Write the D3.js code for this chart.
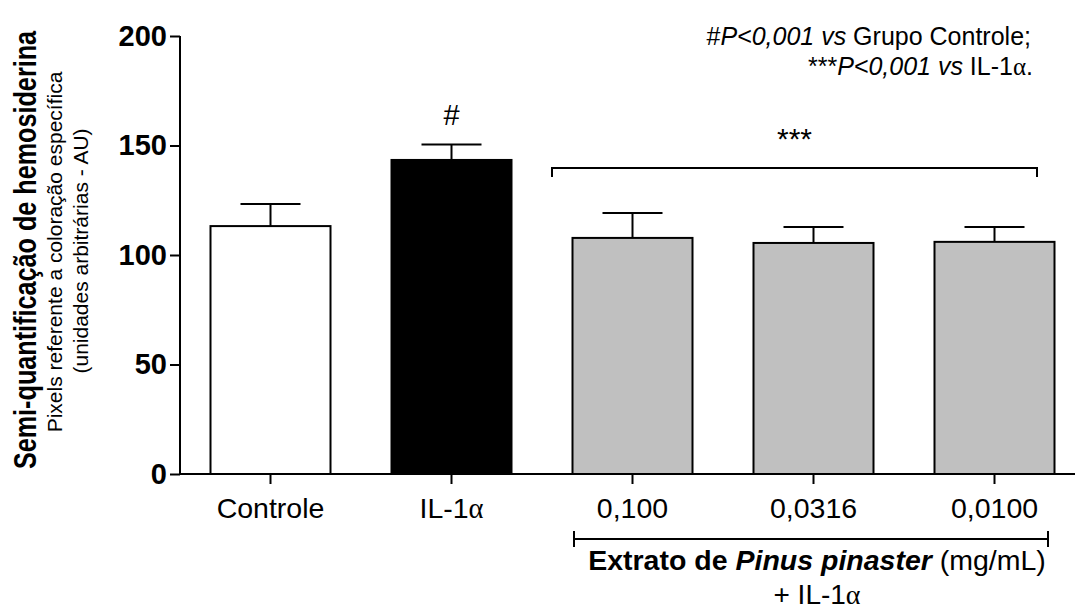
<!DOCTYPE html>
<html>
<head>
<meta charset="utf-8">
<script src="https://cdn.jsdelivr.net/npm/d3@7"></script>
<style>
  body { margin: 0; background: #fff; }
  text { font-family: "Liberation Sans", Arial, sans-serif; fill: #000; }
</style>
</head>
<body>
<div id="chart"></div>
<script>
// Data
const groups = ["Controle", "IL-1α", "0,100", "0,0316", "0,0100"];
const means = [113.2, 143.4, 107.8, 105.5, 106.0];
const sems = [10.1, 7.1, 11.4, 7.3, 6.8];
const fills = ["#ffffff", "#000000", "#c0c0c0", "#c0c0c0", "#c0c0c0"];
const yTicks = [0, 50, 100, 150, 200];

const width = 1075, height = 609;
const margin = {top: 36, right: 0, bottom: 135, left: 180};

const svg = d3.select("#chart").append("svg")
    .attr("width", width)
    .attr("height", height);

// 181 px per group, bars 120 px wide
const x = d3.scaleBand()
    .domain(groups)
    .range([margin.left, margin.left + 181 * 5])
    .paddingInner(1 - 120 / 181)
    .paddingOuter((1 - 120 / 181) / 2);

const y = d3.scaleLinear()
    .domain([0, 200])
    .range([height - margin.bottom, margin.top]);

// Bars
svg.append("g")
    .selectAll("rect")
    .data(groups)
    .join("rect")
    .attr("x", d => x(d))
    .attr("y", (d, i) => y(means[i]))
    .attr("width", x.bandwidth())
    .attr("height", (d, i) => y(0) - y(means[i]))
    .attr("fill", (d, i) => fills[i])
    .attr("stroke", "#000")
    .attr("stroke-width", 2);

// Error bars (upper only)
const err = svg.append("g").attr("stroke", "#000").attr("stroke-width", 2);
groups.forEach((g, i) => {
    const cx = x(g) + x.bandwidth() / 2;
    err.append("line")
        .attr("x1", cx).attr("x2", cx)
        .attr("y1", y(means[i])).attr("y2", y(means[i] + sems[i]));
    err.append("line")
        .attr("x1", cx - 30).attr("x2", cx + 30)
        .attr("y1", y(means[i] + sems[i])).attr("y2", y(means[i] + sems[i]));
});

// Y axis
const yAxis = svg.append("g")
    .attr("transform", `translate(${margin.left},0)`)
    .call(d3.axisLeft(y).tickValues(yTicks).tickSize(10).tickPadding(3));
yAxis.select(".domain").attr("stroke-width", 2).attr("d", `M-0,${y(200)}V${y(0)}`);
yAxis.selectAll(".tick line").attr("stroke-width", 2);
yAxis.selectAll(".tick text")
    .style("font-family", "Liberation Sans, Arial, sans-serif")
    .style("font-size", "29px")
    .style("font-weight", "bold");

// X axis
const xAxis = svg.append("g")
    .attr("transform", `translate(0,${y(0)})`)
    .call(d3.axisBottom(x).tickSize(10).tickSizeOuter(0).tickFormat(() => ""));
xAxis.select(".domain").attr("stroke-width", 2).attr("d", `M${margin.left},0H${width}`);
xAxis.selectAll(".tick line").attr("stroke-width", 2);

// X labels, alpha in a serif face
const xl = svg.append("g");
groups.forEach(g => {
    const t = xl.append("text")
        .attr("x", x(g) + x.bandwidth() / 2)
        .attr("y", 518)
        .attr("text-anchor", "middle")
        .style("font-size", "28.5px");
    if (g.endsWith("α")) {
        t.append("tspan").text(g.slice(0, -1));
        t.append("tspan").style("font-family", "Liberation Serif, serif").text("α");
    } else {
        t.text(g);
    }
});

// Y axis title
const yt = svg.append("g");
yt.append("text")
    .attr("transform", `translate(36,250)rotate(-90)scale(0.8,1)`)
    .attr("text-anchor", "middle")
    .style("font-size", "31.5px")
    .style("font-weight", "bold")
    .text("Semi-quantificação de hemosiderina");
yt.append("text")
    .attr("transform", `translate(62,252)rotate(-90)`)
    .attr("text-anchor", "middle")
    .style("font-size", "21px")
    .text("Pixels referente a coloração específica");
yt.append("text")
    .attr("transform", `translate(88,251)rotate(-90)`)
    .attr("text-anchor", "middle")
    .style("font-size", "21px")
    .text("(unidades arbitrárias - AU)");

// Significance marks
svg.append("text")
    .attr("x", x(groups[1]) + x.bandwidth() / 2)
    .attr("y", 125)
    .attr("text-anchor", "middle")
    .style("font-size", "29px")
    .text("#");

const bx1 = 552, bx2 = 1037, by = 168;
svg.append("path")
    .attr("d", `M${bx1},${by + 9}V${by}H${bx2}V${by + 9}`)
    .attr("fill", "none")
    .attr("stroke", "#000")
    .attr("stroke-width", 2);
svg.append("text")
    .attr("x", (bx1 + bx2) / 2)
    .attr("y", 149)
    .attr("text-anchor", "middle")
    .style("font-size", "30px")
    .text("***");

// Bottom group bracket
const gx1 = 574, gx2 = 1048, gy = 539;
svg.append("path")
    .attr("d", `M${gx1},${gy - 8}V${gy + 8}M${gx1},${gy}H${gx2}M${gx2},${gy - 8}V${gy + 8}`)
    .attr("fill", "none")
    .attr("stroke", "#000")
    .attr("stroke-width", 2);
const ext = svg.append("text")
    .attr("x", 817)
    .attr("y", 570)
    .attr("text-anchor", "middle")
    .style("font-size", "28.5px");
ext.append("tspan").style("font-weight", "bold").text("Extrato de ");
ext.append("tspan").style("font-weight", "bold").style("font-style", "italic").text("Pinus pinaster");
ext.append("tspan").text(" (mg/mL)");
const plus = svg.append("text")
    .attr("x", 817)
    .attr("y", 604)
    .attr("text-anchor", "middle")
    .style("font-size", "28px");
plus.append("tspan").text("+ IL-1");
plus.append("tspan").style("font-family", "Liberation Serif, serif").text("α");

// Note top right
const n1 = svg.append("text")
    .attr("x", 1031).attr("y", 45)
    .attr("text-anchor", "end")
    .style("font-size", "25px");
n1.append("tspan").text("#");
n1.append("tspan").style("font-style", "italic").text("P<0,001 vs");
n1.append("tspan").text(" Grupo Controle;");
const n2 = svg.append("text")
    .attr("x", 1033).attr("y", 75)
    .attr("text-anchor", "end")
    .style("font-size", "25px");
n2.append("tspan").text("***");
n2.append("tspan").style("font-style", "italic").text("P<0,001 vs");
n2.append("tspan").text(" IL-1");
n2.append("tspan").style("font-family", "Liberation Serif, serif").text("α");
n2.append("tspan").text(".");
</script>
</body>
</html>
